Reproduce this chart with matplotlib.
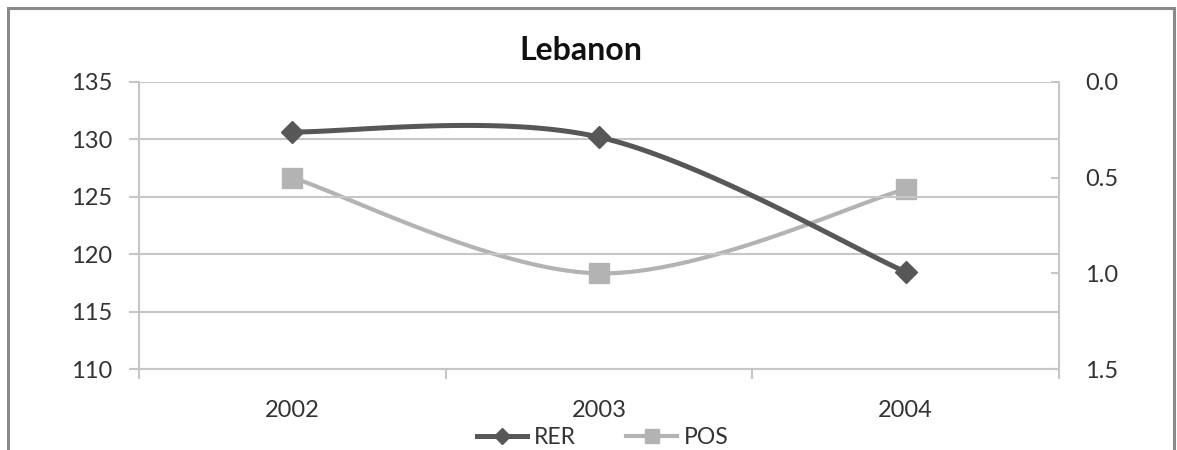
import numpy as np
import matplotlib
matplotlib.use("Agg")
import matplotlib.pyplot as plt
from matplotlib.patches import Rectangle
from matplotlib.lines import Line2D

plt.rcParams['font.family'] = ['Lato', 'DejaVu Sans']

years = ['2002', '2003', '2004']
rer = [130.65, 130.2, 118.45]
pos = [0.5, 1.0, 0.56]

DARK = '#575757'
LIGHT = '#b3b3b3'
GRID = '#c6c6c6'
TXT = '#333333'


# excel-style smoothed line (catmull-rom bezier)
def smooth(xs, ys, n=60):
    xs = np.asarray(xs, float)
    ys = np.asarray(ys, float)
    px = np.concatenate([[xs[0]], xs, [xs[-1]]])
    py = np.concatenate([[ys[0]], ys, [ys[-1]]])
    outx, outy = [], []
    t = np.linspace(0, 1, n)
    for i in range(1, len(px) - 2):
        p0 = np.array([px[i], py[i]])
        p3 = np.array([px[i + 1], py[i + 1]])
        c1 = p0 + (np.array([px[i + 1], py[i + 1]]) - np.array([px[i - 1], py[i - 1]])) / 6
        c2 = p3 - (np.array([px[i + 2], py[i + 2]]) - np.array([px[i], py[i]])) / 6
        b = ((1 - t) ** 3)[:, None] * p0 + (3 * (1 - t) ** 2 * t)[:, None] * c1 \
            + (3 * (1 - t) * t ** 2)[:, None] * c2 + (t ** 3)[:, None] * p3
        outx.extend(b[:, 0])
        outy.extend(b[:, 1])
    return outx, outy


fig = plt.figure(figsize=(11.77, 4.5), dpi=100)
ax = fig.add_axes([0.1181, 0.18, 0.7816, 0.6378])
ax2 = ax.twinx()

x = np.arange(len(years))

sx, sy = smooth(x, pos)
ax2.plot(sx, sy, color=LIGHT, lw=3.0, solid_capstyle='round', zorder=2)
ax2.plot(x, pos, ls='none', marker='s', ms=14, color=LIGHT, zorder=3)

sx, sy = smooth(x, rer)
ax.plot(sx, sy, color=DARK, lw=3.6, solid_capstyle='round', zorder=4)
ax.plot(x, rer, ls='none', marker='D', ms=11, color=DARK, zorder=5)
ax.set_zorder(ax2.get_zorder() + 1)
ax.patch.set_visible(False)

ax.set_xlim(-0.5, 2.5)
ax.set_ylim(110, 135)
ax.set_yticks(np.arange(110, 136, 5))
ax.set_xticks(x)
ax.set_xticklabels(years)
ax.set_xticks([-0.5, 0.5, 1.5, 2.5], minor=True)
ax.grid(axis='y', color=GRID, lw=1.5)
ax.set_axisbelow(True)

ax2.set_ylim(1.5, 0.0)
ax2.set_yticks([0.0, 0.5, 1.0, 1.5])
ax2.set_yticklabels(['0.0', '0.5', '1.0', '1.5'])

for a in (ax, ax2):
    for s in a.spines.values():
        s.set_visible(False)
ax.spines['left'].set_visible(True)
ax.spines['left'].set_color(GRID)
ax.spines['left'].set_linewidth(1.5)
ax.spines['bottom'].set_visible(True)
ax.spines['bottom'].set_color(GRID)
ax.spines['bottom'].set_linewidth(1.5)
ax2.spines['right'].set_visible(True)
ax2.spines['right'].set_color(GRID)
ax2.spines['right'].set_linewidth(1.5)

ax.tick_params(axis='y', labelsize=17, colors=GRID, labelcolor=TXT, length=7, width=1.5, pad=12)
ax.tick_params(axis='x', which='major', length=0, labelsize=17, labelcolor=TXT, pad=22)
ax.tick_params(axis='x', which='minor', length=7, width=1.5, color=GRID)
ax2.tick_params(axis='y', labelsize=17, colors=GRID, labelcolor=TXT, direction='in', length=6, width=1.5, pad=19)

fig.text(0.4935, 0.888, 'Lebanon', ha='center', va='center', fontsize=23, fontweight='bold', color='#111111')

handles = [Line2D([], [], color=DARK, lw=3.6, marker='D', ms=8),
           Line2D([], [], color=LIGHT, lw=3.0, marker='s', ms=10)]
fig.legend(handles, ['RER', 'POS'], loc='center', bbox_to_anchor=(0.512, 0.027), ncol=2,
           frameon=False, fontsize=16.5, handlelength=2.2, columnspacing=2.2, handletextpad=0.3,
           labelcolor=TXT)

fig.patches.append(Rectangle((8 / 1177, -0.05), 1166 / 1177, 1.05 - 8 / 450, transform=fig.transFigure,
                             fill=False, edgecolor='#8a8a8a', lw=2.2))

fig.savefig('out.png', dpi=100)
